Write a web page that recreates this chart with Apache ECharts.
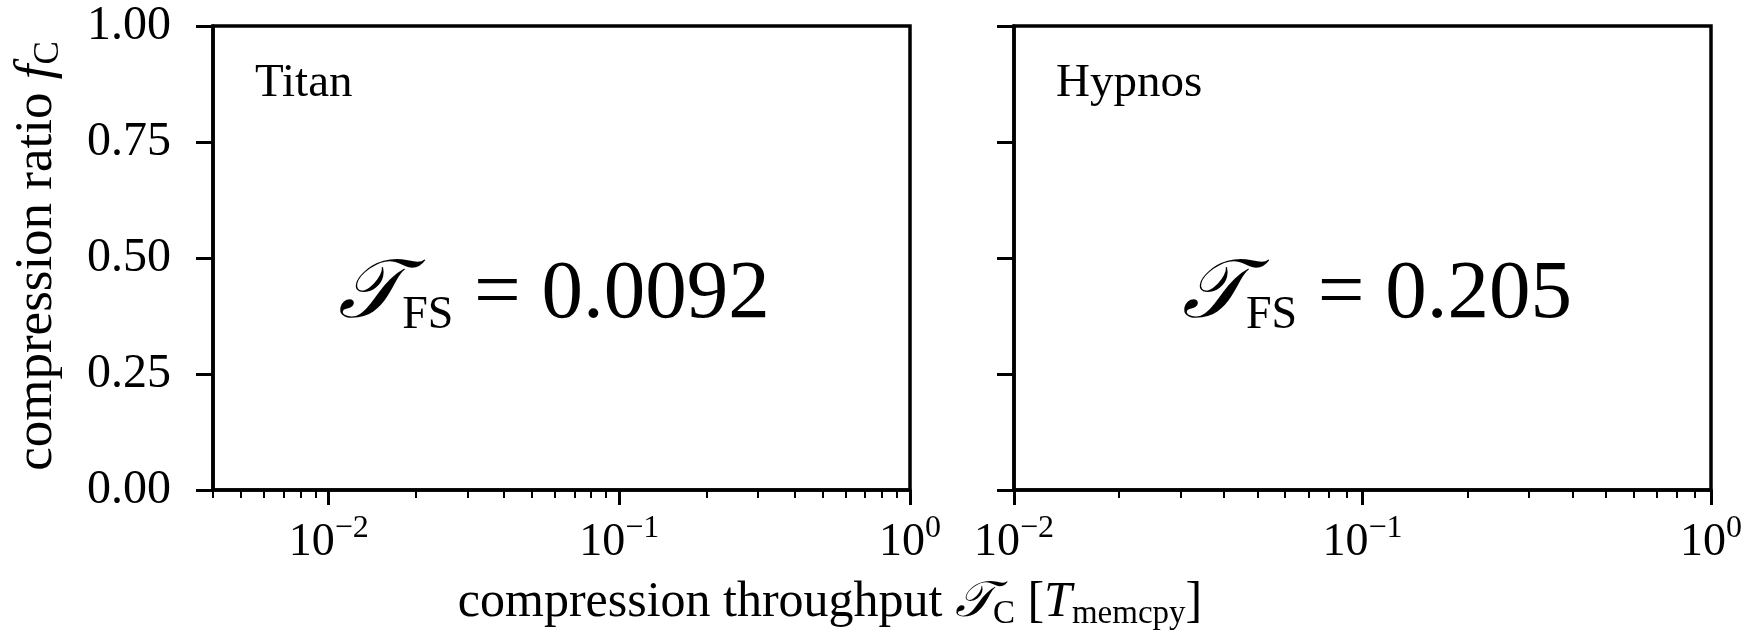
<!DOCTYPE html>
<html>
<head>
<meta charset="utf-8">
<script src="https://cdn.jsdelivr.net/npm/echarts@6/dist/echarts.min.js"></script>
<style>
html,body{margin:0;padding:0;background:#fff;}
#chart{width:1750px;height:630px;}
</style>
</head>
<body>
<div id="chart"></div>
<script>
// panels
var panelNames = ['Titan', 'Hypnos'];
var fsValues = ['0.0092', '0.205'];
var xMin = [0.004, 0.01];
var xMax = [1, 1];
// ticks
var xMajorTicks = [0.01, 0.1, 1];
var xMinorTicks = [0.004, 0.005, 0.006, 0.007, 0.008, 0.009,
                   0.02, 0.03, 0.04, 0.05, 0.06, 0.07, 0.08, 0.09,
                   0.2, 0.3, 0.4, 0.5, 0.6, 0.7, 0.8, 0.9];
var yTicks = [0, 0.25, 0.5, 0.75, 1];

var FONT = "'Liberation Serif', serif";
var CAL = "'DejaVu Serif', 'DejaVu Sans', 'Liberation Serif', serif";

function powLabel(v){
    var e = Math.round(Math.log(v) / Math.LN10);
    return '{b|10}{s|' + (e < 0 ? '\u2212' + (-e) : e) + '}';
}

var xAxes = [], yAxes = [], series = [];
for (var i = 0; i < 2; i++) {
    xAxes.push({
        type: 'log', logBase: 10, gridIndex: i, min: xMin[i], max: xMax[i], position: 'bottom',
        axisLine: {show: true, onZero: false, lineStyle: {color: '#000', width: 3.5}},
        axisTick: {show: true, inside: false, length: 15, customValues: xMajorTicks,
                   lineStyle: {color: '#000', width: 3}},
        axisLabel: {show: true, margin: 23, customValues: xMajorTicks, formatter: powLabel,
                    color: '#000',
                    rich: {
                        b: {fontSize: 46, fontFamily: FONT, color: '#000', lineHeight: 60, verticalAlign: 'middle'},
                        s: {fontSize: 32, fontFamily: FONT, color: '#000', lineHeight: 32, verticalAlign: 'top'}
                    }},
        splitLine: {show: false}
    });
    xAxes.push({
        type: 'log', logBase: 10, gridIndex: i, min: xMin[i], max: xMax[i], position: 'bottom',
        axisLine: {show: false, onZero: false},
        axisTick: {show: true, inside: false, length: 8, customValues: xMinorTicks,
                   lineStyle: {color: '#000', width: 2}},
        axisLabel: {show: false},
        splitLine: {show: false}
    });
    yAxes.push({
        type: 'value', gridIndex: i, min: 0, max: 1,
        axisLine: {show: true, onZero: false, lineStyle: {color: '#000', width: 3.5}},
        axisTick: {show: true, inside: false, length: 17, customValues: yTicks,
                   lineStyle: {color: '#000', width: 3}},
        axisLabel: {show: i === 0, margin: 42, customValues: yTicks,
                    formatter: function(v){ return v.toFixed(2); },
                    color: '#000', fontSize: 48, fontFamily: FONT},
        splitLine: {show: false}
    });
    series.push({type: 'scatter', xAxisIndex: i * 2, yAxisIndex: i, data: []});
}

var formulaRich = {
    cal: {fontSize: 83, fontFamily: CAL, fontStyle: 'italic', lineHeight: 88, verticalAlign: 'middle', fill: '#000'},
    num: {fontSize: 83, fontFamily: FONT, lineHeight: 88, verticalAlign: 'middle', fill: '#000'},
    sub: {fontSize: 46, fontFamily: FONT, lineHeight: 46, verticalAlign: 'bottom', fill: '#000'}
};
function nameStyles(size, subSize){
    return {
        t: {fontSize: size, fontFamily: FONT, lineHeight: size + 6, verticalAlign: 'middle', fill: '#000'},
        it: {fontSize: size, fontFamily: FONT, fontStyle: 'italic', lineHeight: size + 6, verticalAlign: 'middle', fill: '#000'},
        cal: {fontSize: size, fontFamily: CAL, fontStyle: 'italic', lineHeight: size + 6, verticalAlign: 'middle', fill: '#000'},
        s: {fontSize: subSize, fontFamily: FONT, lineHeight: subSize, verticalAlign: 'bottom', fill: '#000'}
    };
}

var panelLeft = [213, 1014];
var formulaX = [554, 1377];
var graphics = [];
for (var j = 0; j < 2; j++) {
    graphics.push({
        type: 'text', x: panelLeft[j] + 42, y: 84,
        style: {text: panelNames[j], fontSize: 47, fontFamily: FONT, fill: '#000',
                align: 'left', verticalAlign: 'middle'}
    });
    graphics.push({
        type: 'text', x: formulaX[j], y: 295,
        style: {text: '{cal|\uD835\uDCAF}{sub|FS}{num| = ' + fsValues[j] + '}', rich: formulaRich,
                align: 'center', verticalAlign: 'middle'}
    });
}
graphics.push({
    type: 'text', x: 830, y: 603,
    style: {text: '{t|compression throughput }{cal|\uD835\uDCAF}{s|C}{t| [}{it|T}{s|memcpy}{t|]}',
            rich: nameStyles(50, 33), align: 'center', verticalAlign: 'middle'}
});
graphics.push({
    type: 'text', x: 37, y: 256, rotation: Math.PI / 2,
    style: {text: '{t|compression ratio }{it|f}{s|C}', rich: nameStyles(53, 35),
            align: 'center', verticalAlign: 'middle'}
});

var myChart = echarts.init(document.getElementById('chart'));
var option = {
    animation: false,
    backgroundColor: '#fff',
    grid: [
        {left: 213, top: 26, width: 697, height: 464, show: true, borderColor: '#000', borderWidth: 3.5, backgroundColor: 'transparent'},
        {left: 1014, top: 26, width: 697, height: 464, show: true, borderColor: '#000', borderWidth: 3.5, backgroundColor: 'transparent'}
    ],
    xAxis: xAxes,
    yAxis: yAxes,
    series: series,
    graphic: graphics
};
myChart.setOption(option);
</script>
</body>
</html>
